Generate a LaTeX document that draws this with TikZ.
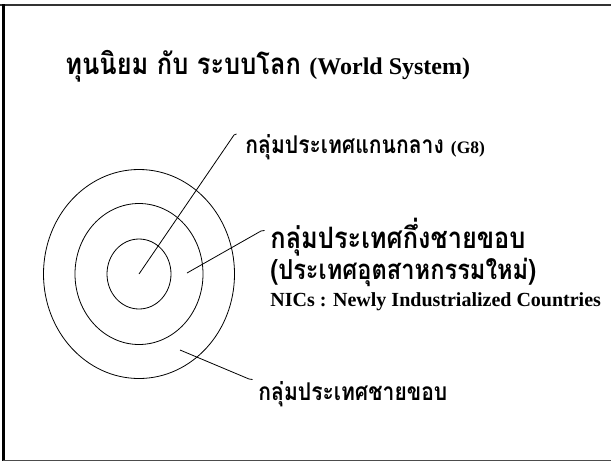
\documentclass[tikz,border=0pt]{standalone}
\usepackage{fontspec}
\setmainfont{Liberation Serif}
\newfontfamily\thai[Script=Thai, FakeStretch=0.86]{Loma}
\begin{document}
\begin{tikzpicture}[x=1pt, y=-1pt, line width=0.8pt,
  lbl/.style={anchor=base west, inner sep=0pt, font=\thai\bfseries}]
\useasboundingbox (0,0) rectangle (611,461);
\draw [line width=2pt, black!80] (0,5) -- (611,5);
\draw [line width=3pt] (3,4) -- (3,461);
\draw [black!70] (3,460) -- (611,460);

\node [lbl] (title) at (65,74)
  {\fontsize{29.5}{34}\selectfont ทุนนิยม กับ ระบบโลก \rmfamily\fontsize{24}{28}\selectfont(World System)};

\path (139,274) coordinate (core);
\draw (core) ellipse [x radius=32, y radius=35];
\draw (core) ellipse [x radius=64, y radius=70.5];
\draw (core) ellipse [x radius=95.5, y radius=104.5];

\node [lbl] (g8) at (245,153)
  {\fontsize{24.5}{28}\selectfont กลุ่มประเทศแกนกลาง \rmfamily\fontsize{17.5}{20}\selectfont(G8)};
\node [lbl] (semi) at (270,248) {\fontsize{29.5}{34}\selectfont กลุ่มประเทศกึ่งชายขอบ};
\node [lbl] (nic) at (270,279) {\fontsize{27.5}{32}\selectfont (ประเทศอุตสาหกรรมใหม่)};
\node [lbl, font=\bfseries] (nics) at (270,306)
  {\fontsize{20}{24}\selectfont NICs : Newly Industrialized Countries};
\node [lbl] (periph) at (258,400) {\fontsize{24.5}{28}\selectfont กลุ่มประเทศชายขอบ};

\path (187,273) coordinate (semipt) (180,350) coordinate (periphpt);
\path (234,135) coordinate (g8end) (261,231) coordinate (semiend) (249,379) coordinate (periphend);
\draw (core) -- (g8end) -- ++(2.5,-1);
\draw (semipt) -- (semiend) -- ++(3.5,-0.5);
\draw (periphpt) -- (periphend) -- ++(3.5,0.5);
\end{tikzpicture}
\end{document}
